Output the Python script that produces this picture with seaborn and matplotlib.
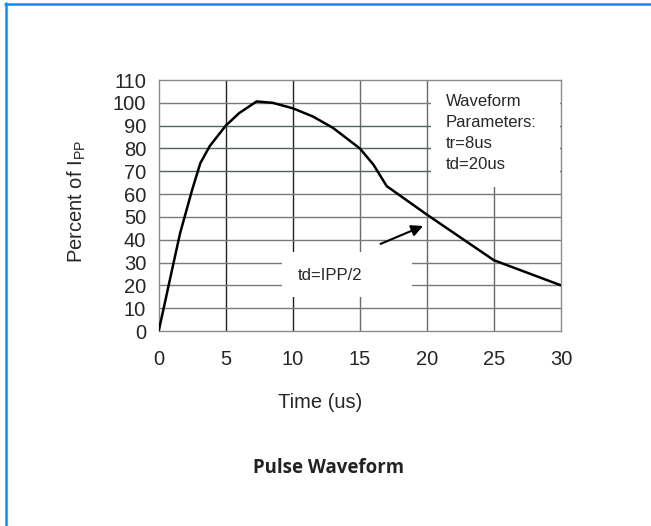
import matplotlib
matplotlib.use("Agg")
import matplotlib.pyplot as plt
import matplotlib.patches as mpatches
from matplotlib.lines import Line2D
import seaborn as sns

# Pulse waveform (percent of peak current vs time)
time_us = [0, 1, 1.6, 2.5, 3.1, 3.8, 5, 6, 7.3, 8.5, 10, 11.5, 13, 14, 15, 16, 17, 20, 25, 30]
percent_ipp = [0, 27, 43, 62, 73.5, 81, 90, 95.5, 100.6, 100, 97.6, 94, 89, 84.5, 80, 73, 63.5, 51, 31, 20]

x_ticks = [0, 5, 10, 15, 20, 25, 30]
y_ticks = list(range(0, 111, 10))
params_text = "Waveform\nParameters:\ntr=8us\ntd=20us"
td_text = "td=IPP/2"

sns.set_style("white")
plt.rcParams["font.family"] = ["Liberation Sans", "DejaVu Sans"]
plt.rcParams["mathtext.fontset"] = "custom"
plt.rcParams["mathtext.rm"] = "Liberation Sans"

fig = plt.figure(figsize=(6.51, 5.26), dpi=100)
ax = fig.add_axes([0.2438, 0.3707, 0.618, 0.4772])

sns.lineplot(x=time_us, y=percent_ipp, color="black", linewidth=1.8, ax=ax, zorder=4)

ax.set_xlim(0, 30)
ax.set_ylim(0, 110)
ax.set_xticks(x_ticks)
ax.set_yticks(y_ticks)
ax.tick_params(axis="x", length=0, pad=14, labelsize=14.5)
ax.tick_params(axis="y", length=0, pad=9, labelsize=14.5)

# grid
ax.set_axisbelow(True)
for x in x_ticks[1:-1]:
    ax.axvline(x, color="#222222" if x <= 10 else "#6a6a6a", lw=1.0, zorder=0.5)
for y in y_ticks[1:-1]:
    ax.axhline(y, color="#52645a" if 70 <= y <= 90 else "#7a7a7a", lw=1.0, zorder=0.5)
for s in ax.spines.values():
    s.set_color("#8a8a8a")
    s.set_linewidth(1.0)

# white boxes for the notes
ax.add_patch(mpatches.Rectangle((20.3, 63), 9.6, 47, facecolor="white", edgecolor="none", zorder=1))
ax.add_patch(mpatches.Rectangle((9.2, 15), 9.7, 19.5, facecolor="white", edgecolor="none", zorder=1))

ax.text(21.4, 104, params_text, fontsize=12, va="top", ha="left", linespacing=1.5, zorder=5)
ax.text(12.8, 24.5, td_text, fontsize=12, va="center", ha="center", zorder=5)
ax.annotate("", xy=(19.9, 46.5), xytext=(16.35, 37.7),
            arrowprops=dict(arrowstyle="-|>", color="black", lw=1.5, mutation_scale=17), zorder=5)

ax.set_xlabel("Time (us)", fontsize=14.5)
ax.set_ylabel(r"Percent of I$_{\mathrm{PP}}$", fontsize=14.5)
ax.xaxis.set_label_coords(0.401, -0.247)
ax.yaxis.set_label_coords(-0.176, 0.515)

fig.text(0.504, 0.110, "Pulse Waveform", fontsize=13.4, fontweight="bold",
         family=["Open Sans", "DejaVu Sans"], ha="center", va="center", color="#222222")

# blue frame on top and left
fig.add_artist(Line2D([5 / 651, 1], [1 - 4 / 526, 1 - 4 / 526], color="#0a8ef5", lw=1.8))
fig.add_artist(Line2D([5.5 / 651, 5.5 / 651], [0, 1 - 3 / 526], color="#0a8ef5", lw=1.8))

fig.savefig("out.png", dpi=100)
